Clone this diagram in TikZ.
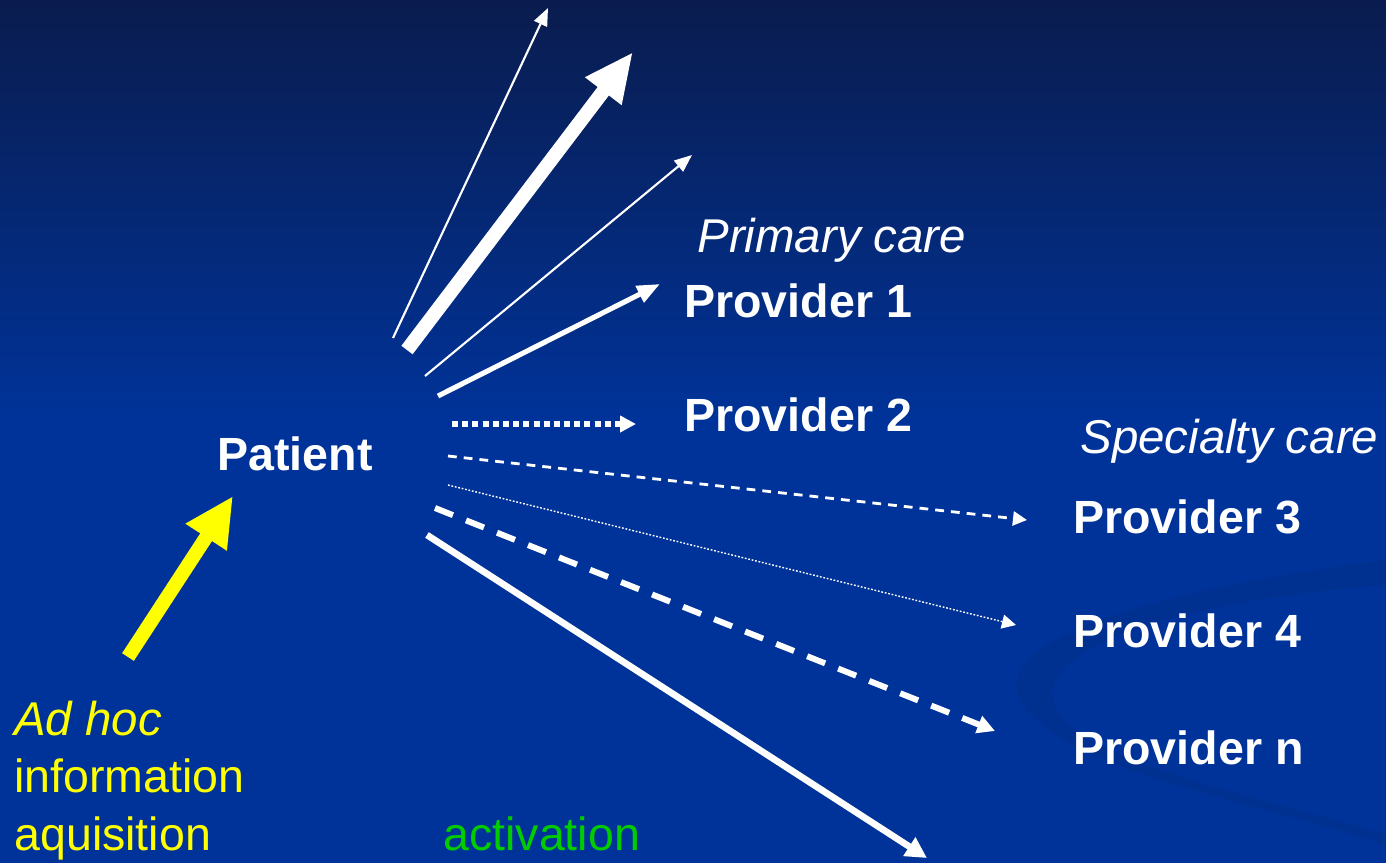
\documentclass[tikz,border=0pt]{standalone}
\usepackage{fontspec}
\setmainfont{Liberation Sans}
\usetikzlibrary{arrows.meta}
\definecolor{bgtop}{RGB}{10,28,78}
\definecolor{bgmid}{RGB}{0,51,153}
\definecolor{ylw}{RGB}{255,255,0}
\definecolor{grn}{RGB}{0,204,0}
\begin{document}
\begin{tikzpicture}[x=0.02cm,y=-0.02cm,
  lbl/.style={inner sep=0pt,anchor=base west,text=white,font=\fontsize{26.5}{32}\selectfont},
  blbl/.style={lbl,font=\fontsize{26.5}{32}\selectfont\bfseries},
  ilbl/.style={lbl,font=\fontsize{27}{32}\selectfont\itshape},
  arr/.style={draw=white,line cap=butt},
]
\useasboundingbox (0,0) rectangle (1386,863);
% background
\fill[bgmid] (0,0) rectangle (1386,863);
\shade[top color=bgtop,bottom color=bgmid] (0,0) rectangle (1386,420);
% swoosh
\fill[black,opacity=0.06] (1386,560) .. controls (1150,590) and (990,640) .. (1020,700)
  .. controls (1060,770) and (1250,800) .. (1386,845) -- (1386,835)
  .. controls (1260,795) and (1080,765) .. (1055,705)
  .. controls (1030,650) and (1180,600) .. (1386,585) -- cycle;

% labels
\node[ilbl] (pc) at (697,252) {Primary care};
\node[blbl] (p1) at (684,317) {Provider 1};
\node[blbl] (p2) at (684,431) {Provider 2};
\node[ilbl] (sc) at (1080,453) {Specialty care};
\node[blbl] (p3) at (1073,533) {Provider 3};
\node[blbl] (p4) at (1073,647) {Provider 4};
\node[blbl] (pn) at (1073,764) {Provider n};
\node[blbl] (pat) at (217,470) {Patient};
\node[ilbl,text=ylw] (adhoc) at (14,735) {Ad hoc};
\node[lbl,text=ylw] (info) at (14,792) {information};
\node[lbl,text=ylw] (aqu) at (14,850) {aquisition};
\node[lbl,text=grn] (act) at (443,850) {activation};

% endpoints
\coordinate (s1) at (393,338); \coordinate (e1) at (548,8);
\coordinate (s2) at (407,350); \coordinate (e2) at (633,52);
\coordinate (s3) at (425,376); \coordinate (e3) at (692,155);
\coordinate (s4) at (438,396); \coordinate (e4) at (660,284);
\coordinate (s5) at (452,424); \coordinate (e5) at (636,424);
\coordinate (s6) at (448,456); \coordinate (e6) at (1027,520);
\coordinate (s7) at (448,485); \coordinate (e7) at (1016,625);
\coordinate (s8) at (435,508); \coordinate (e8) at (995,731);
\coordinate (s9) at (427,535); \coordinate (e9) at (927,858);
\coordinate (sy) at (128,657); \coordinate (ey) at (233,496);

% arrows
\draw[arr,line width=1.2pt,-{Triangle[length=10pt,width=8pt]}] (s1) -- (e1);
\draw[arr,line width=8pt,-{Triangle[length=28pt,width=24pt]}] (s2) -- (e2);
\draw[arr,line width=1.2pt,-{Triangle[length=10pt,width=8pt]}] (s3) -- (e3);
\draw[arr,line width=2.9pt,-{Triangle[length=13pt,width=10pt]}] (s4) -- (e4);
\draw[arr,line width=3.4pt,dash pattern=on 3.4pt off 2.4pt,-{Triangle[length=9pt,width=9pt]}] (s5) -- (e5);
\draw[arr,line width=1.6pt,dash pattern=on 5pt off 4pt,-{Triangle[length=8pt,width=8pt]}] (s6) -- (e6);
\draw[arr,line width=0.8pt,dash pattern=on 1pt off 1pt,-{Triangle[length=8pt,width=8pt]}] (s7) -- (e7);
\draw[arr,line width=3.4pt,dash pattern=on 11pt off 8pt,-{Triangle[length=10pt,width=10pt]}] (s8) -- (e8);
\draw[arr,line width=3.8pt,-{Triangle[length=12pt,width=12pt]}] (s9) -- (e9);
\draw[draw=ylw,line width=8pt,-{Triangle[length=28pt,width=26pt]}] (sy) -- (ey);
\end{tikzpicture}
\end{document}
